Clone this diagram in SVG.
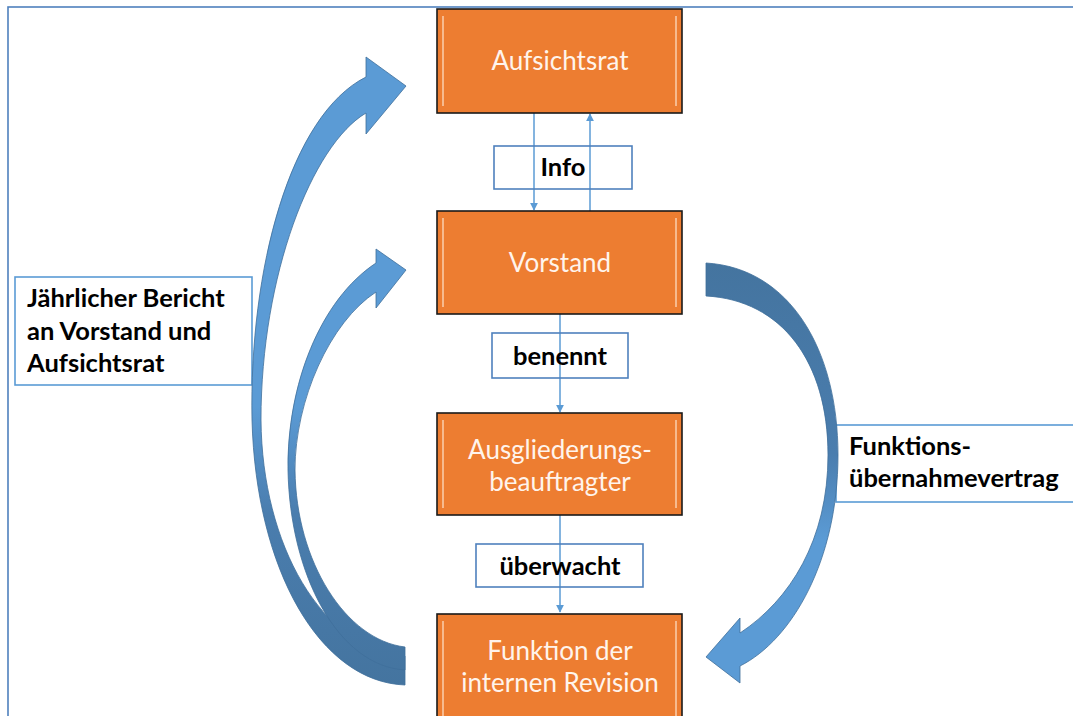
<svg xmlns="http://www.w3.org/2000/svg" width="1073" height="716" viewBox="0 0 1073 716">
<defs>
<style>
.box{fill:#ED7D31;stroke:#1a1a1a;stroke-width:1.6}
.hl{stroke:#F9C9A6;stroke-width:2;fill:none;opacity:0.8}
.bt{font-family:Lato,"Open Sans","Liberation Sans",sans-serif;font-size:26px;fill:#FFF4EC;text-anchor:middle}
.lb{font-family:Lato,"Liberation Sans",sans-serif;font-size:25.5px;font-weight:bold;fill:#000}
.lbox{fill:#fff;stroke:#5B9BD5;stroke-width:1.6}
.sbox{fill:none;stroke:#4F81BD;stroke-width:1.6}
.ln{stroke:#5B9BD5;stroke-width:1.5;fill:none}
.ca{stroke:#3F6E9A;stroke-width:0.8}
</style>
<marker id="ah" viewBox="0 0 10 10" refX="9" refY="5" markerWidth="8" markerHeight="8" markerUnits="userSpaceOnUse" orient="auto">
<path d="M0,0 L10,5 L0,10 Z" fill="#5B9BD5"/>
</marker>
<linearGradient id="gl" gradientUnits="userSpaceOnUse" x1="0" y1="60" x2="0" y2="690">
<stop offset="0" stop-color="#5B9BD5"/>
<stop offset="0.55" stop-color="#5B9BD5"/>
<stop offset="0.72" stop-color="#4A7DAE"/>
<stop offset="1" stop-color="#44749F"/>
</linearGradient>
<linearGradient id="gr" gradientUnits="userSpaceOnUse" x1="0" y1="260" x2="0" y2="690">
<stop offset="0" stop-color="#44749F"/>
<stop offset="0.45" stop-color="#4A7DAE"/>
<stop offset="0.65" stop-color="#5B9BD5"/>
<stop offset="1" stop-color="#5B9BD5"/>
</linearGradient>
</defs>
<rect x="8" y="7" width="1100" height="760" class="sbox"/>

<g id="label-bericht">
<rect x="15" y="277" width="237" height="108" class="lbox"/>
<text class="lb" x="27" y="307">Jährlicher Bericht</text>
<text class="lb" x="27" y="340">an Vorstand und</text>
<text class="lb" x="27" y="372">Aufsichtsrat</text>
</g>
<g id="label-funktion">
<rect x="836" y="425" width="260" height="77" class="lbox"/>
<text class="lb" x="849" y="455">Funktions-</text>
<text class="lb" x="849" y="487">übernahmevertrag</text>
</g>

<g id="connectors">
<path class="ca" fill="url(#gl)" d="M405,685 C320,682 256,570 252,420 C249,270 290,115 366,77 L366,57 L406,86 L366,134 L366,113 C312,145 261,275 261,420 C262,545 322,650 405,656 Z"/>
<path class="ca" fill="url(#gl)" d="M405,670 C338,666 290,575 288,470 C287,385 320,300 376,263 L376,249 L406,270 L376,308 L376,292 C330,322 295,400 295,470 C296,562 346,640 405,647 Z"/>
<path class="ca" fill="url(#gr)" d="M706,263 C790,268 838,350 838,455 C838,560 792,640 740,666 L740,683 L706,657 L740,618 L740,633 C790,600 828,540 828,455 C828,362 782,300 706,296 Z"/>
<line class="ln" x1="534" y1="113" x2="534" y2="210" marker-end="url(#ah)"/>
<line class="ln" x1="590" y1="211" x2="590" y2="114" marker-end="url(#ah)"/>
<line class="ln" x1="560" y1="314" x2="560" y2="412" marker-end="url(#ah)"/>
<line class="ln" x1="560" y1="515" x2="560" y2="612" marker-end="url(#ah)"/>
</g>

<g id="label-info">
<rect x="494" y="146" width="138" height="43" class="sbox" stroke="#5B9BD5"/>
<text class="lb" x="563" y="176" text-anchor="middle">Info</text>
</g>
<g id="label-benennt">
<rect x="492" y="333" width="136" height="45" class="sbox" stroke="#5B9BD5"/>
<text class="lb" x="560" y="365" text-anchor="middle">benennt</text>
</g>
<g id="label-ueberwacht">
<rect x="476" y="544" width="167" height="43" class="sbox" stroke="#5B9BD5"/>
<text class="lb" x="560" y="575" text-anchor="middle">überwacht</text>
</g>

<g id="node-aufsichtsrat">
<rect x="437" y="9" width="245" height="104" class="box"/>
<path class="hl" d="M443,16 V106 M676,16 V106"/>
<text class="bt" x="560" y="70">Aufsichtsrat</text>
</g>
<g id="node-vorstand">
<rect x="437" y="211" width="245" height="103" class="box"/>
<path class="hl" d="M443,218 V307 M676,218 V307"/>
<text class="bt" x="560" y="272">Vorstand</text>
</g>
<g id="node-ausgliederung">
<rect x="437" y="413" width="245" height="102" class="box"/>
<path class="hl" d="M443,420 V508 M676,420 V508"/>
<text class="bt" x="560" y="459">Ausgliederungs-</text>
<text class="bt" x="560" y="491">beauftragter</text>
</g>
<g id="node-revision">
<rect x="437" y="614" width="245" height="110" class="box"/>
<path class="hl" d="M443,621 V716 M676,621 V716"/>
<text class="bt" x="560" y="660">Funktion der</text>
<text class="bt" x="560" y="692">internen Revision</text>
</g>
</svg>
